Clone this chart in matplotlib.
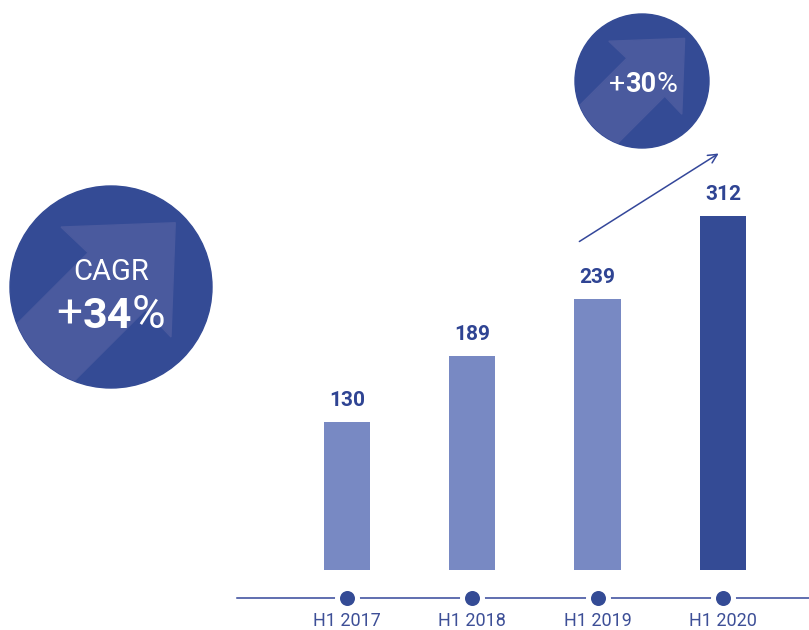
"""Half-year volume bars with CAGR badges."""
import matplotlib
matplotlib.use("Agg")
import matplotlib.pyplot as plt
import numpy as np
from matplotlib.patches import Circle, Polygon

periods = ["H1 2017", "H1 2018", "H1 2019", "H1 2020"]
values = [130, 189, 239, 312]
cagr_label = "34"
yoy_label = "30"

DARK = "#344b95"
LIGHT = "#7889c3"
ARROW = "#4a5a9e"
TEXT = "#2f4493"
AXIS = "#34479a"

plt.rcParams["font.family"] = ["Roboto", "DejaVu Sans"]

fig = plt.figure(figsize=(8.09, 6.30), dpi=100)

# Data axes: category index on x, value on y (covers the whole canvas).
ax = fig.add_axes([0, 0, 1, 1])
x = np.arange(len(values))
ax.set_xlim(-2.769, 3.687)
ax.set_ylim(-53.4, 503.1)
ax.axis("off")

colors = [LIGHT] * (len(values) - 1) + [DARK]
bars = ax.bar(x, values, width=0.37, color=colors, zorder=2)
for bar, v in zip(bars, values):
    ax.annotate(str(v), (bar.get_x() + bar.get_width() / 2, v),
                xytext=(0, 11.5), textcoords="offset points",
                ha="center", va="baseline", fontsize=15,
                fontweight="bold", color=TEXT)

# Timeline with dots under each bar.
axis_y = -25
ax.axhline(axis_y, xmin=237 / 809, xmax=1, color=AXIS, lw=1.1, zorder=1)
ax.scatter(x, [axis_y] * len(x), s=(12.5 * 2 * 0.72) ** 2, color="white",
           zorder=2, linewidths=0)
ax.scatter(x, [axis_y] * len(x), s=(7.5 * 2 * 0.72) ** 2, color=DARK,
           zorder=3, linewidths=0)
for xi, p in zip(x, periods):
    ax.text(xi, -45.5, p, ha="center", va="center", fontsize=13,
            color="#3d4f97")

# Decoration axes in pixel units (y down).
deco = fig.add_axes([0, 0, 1, 1])
deco.set_xlim(0, 809)
deco.set_ylim(630, 0)
deco.axis("off")


def badge(cx, cy, r):
    """Circle with a lighter up-right arrow inside."""
    circ = Circle((cx, cy), r, color=DARK, zorder=1)
    deco.add_patch(circ)
    # arrow outline along its own axis (u toward tip, v across)
    uv = np.array([[0.9, 0.0], [0.07, 0.77], [0.08, 0.40], [-1.6, 0.40],
                   [-1.6, -0.40], [0.08, -0.40], [0.07, -0.77]])
    a = np.deg2rad(45)
    ux, uy = np.cos(a), -np.sin(a)
    vx, vy = -np.sin(a), -np.cos(a)
    pts = np.column_stack([cx + r * (uv[:, 0] * ux + uv[:, 1] * vx),
                           cy + r * (uv[:, 0] * uy + uv[:, 1] * vy)])
    arrow = Polygon(pts, closed=True, color=ARROW, zorder=2)
    deco.add_patch(arrow)
    arrow.set_clip_path(circ)


def mixed_text(cx, base, number, size, sign_size):
    """'+NN%' with bold number and regular signs."""
    t = deco.text(cx, base, number, ha="center", va="baseline",
                  fontsize=size, fontweight="bold", color="white", zorder=3)
    deco.annotate("+", xy=(0, 0), xycoords=t, ha="right", va="bottom",
                  fontsize=sign_size, color="white", zorder=3)
    deco.annotate("%", xy=(1, 0), xycoords=t, ha="left", va="bottom",
                  fontsize=sign_size, color="white", zorder=3)


badge(111, 287, 101)
deco.text(111, 280, "CAGR", ha="center", va="baseline", fontsize=21,
          color="white", zorder=3)
mixed_text(107, 328, cagr_label, 31, 33)

badge(642, 81, 67)
mixed_text(641, 92, yoy_label, 19.5, 20.5)

# Growth arrow between the last two bars.
deco.annotate("", xy=(721, 152), xytext=(577, 243),
              arrowprops=dict(arrowstyle="->", color=AXIS, lw=1.1,
                              mutation_scale=16))

fig.savefig("out.png", dpi=100)
